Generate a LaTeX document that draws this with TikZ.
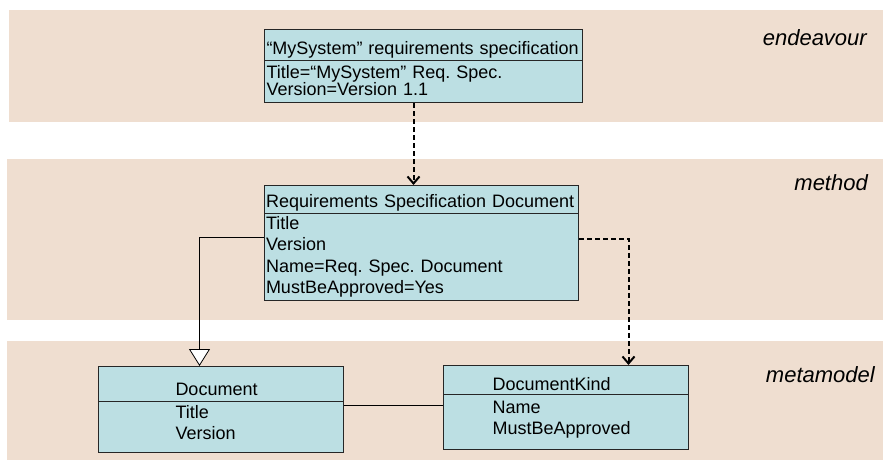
\documentclass[tikz,border=0pt]{standalone}
\usepackage{fontspec}
\setmainfont{Liberation Sans}
\usetikzlibrary{shapes.multipart,arrows.meta}
\definecolor{bandtan}{RGB}{239,222,208}
\definecolor{classblue}{RGB}{188,223,227}
% invisible rule: height #1 above and depth #2 below the baseline
\newcommand{\classstrut}[2]{\rule[-#2]{0pt}{\dimexpr#1+#2\relax}}
\frenchspacing

\begin{document}
\begin{tikzpicture}[x=1pt, y=-1pt,
        layer/.style={anchor=east, inner sep=0pt, font=\fontsize{22}{26}\selectfont\itshape},
        umlclass/.style={rectangle split, rectangle split parts=2, anchor=north west,
            draw=black!85, line width=1pt, fill=classblue, align=left,
            font=\fontsize{18}{21}\selectfont, inner ysep=2pt},
        instanceof/.style={line width=2pt, dash pattern=on 5pt off 3pt,
            -{Straight Barb[length=7pt, width=12pt]}},
        generalization/.style={line width=0.8pt,
            -{Triangle[open, fill=white, length=17pt, width=21pt]}},
        association/.style={line width=0.8pt}]
    \useasboundingbox (0,0) rectangle (883,461);

    % the three layers
    \fill[bandtan] (9,10) rectangle (883,122);
    \fill[bandtan] (7,159) rectangle (883,320);
    \fill[bandtan] (7,341) rectangle (883,460);
    \node[layer] (endeavour) at (867,38) {endeavour};
    \node[layer] (method) at (868,183) {method};
    \node[layer] (metamodel) at (875,375) {metamodel};

    % classes
    \node[umlclass, font=\fontsize{18}{17}\selectfont, inner xsep=2pt, text width=314pt]
        (spec) at (264,29)
        {\classstrut{22.5pt}{1.5pt}“MySystem” requirements specification
         \nodepart{two}\classstrut{15.5pt}{0pt}Title=“MySystem” Req. Spec.\\
         Version=Version 1.1\classstrut{0pt}{4.5pt}};
    \node[umlclass, font=\fontsize{18}{21.5}\selectfont, inner xsep=1.5pt, text width=311pt]
        (reqdoc) at (264,185)
        {\classstrut{19.5pt}{2.5pt}Requirements Specification Document
         \nodepart{two}\classstrut{13pt}{0pt}Title\\Version\\Name=Req. Spec. Document\\
         MustBeApproved=Yes\classstrut{0pt}{4pt}};
    \node[umlclass, inner xsep=77pt, inner ysep=3pt, text width=91pt] (doc) at (98,366)
        {\classstrut{25pt}{3pt}Document
         \nodepart{two}\classstrut{12pt}{0pt}Title\\Version\classstrut{0pt}{10pt}};
    \node[umlclass, inner xsep=49pt, inner ysep=3pt, text width=147pt] (kind) at (443,365)
        {\classstrut{21.5pt}{0.5pt}DocumentKind
         \nodepart{two}\classstrut{15.5pt}{0pt}Name\\MustBeApproved\classstrut{0pt}{11.5pt}};

    % links
    \draw[instanceof] ([xshift=-10pt]spec.south) -- ([xshift=-8pt]reqdoc.north);
    \draw[instanceof] ([yshift=4pt]reqdoc.east) -| ([xshift=62.5pt]kind.north);
    \draw[generalization] ([yshift=5pt]reqdoc.west) -| ([xshift=-21.5pt]doc.north);
    \draw[association] ([yshift=4pt]doc.east) -- ([yshift=4pt]doc.east -| kind.west);
\end{tikzpicture}
\end{document}
